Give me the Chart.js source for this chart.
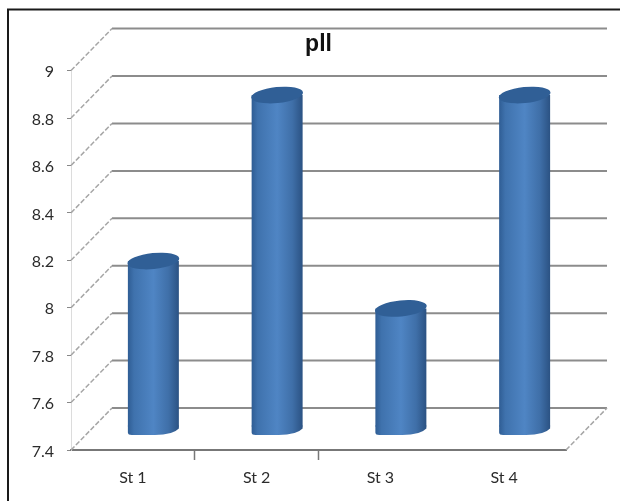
<!DOCTYPE html>
<html>
<head>
<meta charset="utf-8">
<title>pll</title>
<script src="https://cdn.jsdelivr.net/npm/chart.js@4"></script>
<style>
  html, body { margin: 0; padding: 0; background: #fff; }
  canvas { display: block; }
</style>
</head>
<body>
<canvas id="myChart" width="620" height="501"></canvas>
<script>
var categories = ['St 1', 'St 2', 'St 3', 'St 4'];
var values = [8.1, 8.8, 7.9, 8.8];
var yMin = 7.4;
var yMax = 9;
var yStep = 0.2;

// depth of the fake 3D box, and where the cylinders stand inside it
var wallDx = 41, wallDy = -42;
var barDx = 20.5, barDy = -23;
var barRatio = 0.412;

function bodyGradient(context) {
    var chart = context.chart;
    var x = chart.scales.x;
    if (!x || !chart.chartArea) return '#4a7ebb';
    var cx = x.getPixelForValue(context.dataIndex);
    var half = x.width / categories.length * barRatio / 2;
    var g = chart.ctx.createLinearGradient(cx - half, 0, cx + half, 0);
    g.addColorStop(0, '#2f5d94');
    g.addColorStop(0.12, '#3f72ad');
    g.addColorStop(0.5, '#4f85c4');
    g.addColorStop(0.8, '#3f6fa8');
    g.addColorStop(1, '#2b5283');
    return g;
}

// black frame, back wall gridlines and the slanted side lines
var boxPlugin = {
    id: 'box',
    beforeDatasetsDraw: function (chart) {
        var ctx = chart.ctx, area = chart.chartArea, y = chart.scales.y;
        ctx.save();
        ctx.strokeStyle = '#1a1a1a';
        ctx.lineWidth = 2;
        ctx.beginPath();
        ctx.moveTo(8, 501);
        ctx.lineTo(8, 9.5);
        ctx.lineTo(620, 9.5);
        ctx.stroke();

        y.ticks.forEach(function (t) {
            var py = y.getPixelForValue(t.value);
            ctx.setLineDash([]);
            ctx.strokeStyle = '#8c8c8c';
            ctx.lineWidth = 2;
            ctx.beginPath();
            ctx.moveTo(area.left + wallDx, py + wallDy);
            ctx.lineTo(area.right + wallDx, py + wallDy);
            ctx.stroke();

            ctx.setLineDash([5, 2]);
            ctx.strokeStyle = '#a6a6a6';
            ctx.lineWidth = 1.5;
            ctx.beginPath();
            ctx.moveTo(area.left, py);
            ctx.lineTo(area.left + wallDx, py + wallDy);
            ctx.stroke();
        });
        // right edge of the floor
        ctx.beginPath();
        ctx.moveTo(area.right, area.bottom);
        ctx.lineTo(area.right + wallDx, area.bottom + wallDy);
        ctx.stroke();
        ctx.restore();

        ctx.save();
        ctx.translate(barDx, barDy);
    },
    afterDatasetsDraw: function (chart) {
        var ctx = chart.ctx;
        chart.getDatasetMeta(0).data.forEach(function (bar) {
            var l = bar.x - bar.width / 2, r = bar.x + bar.width / 2;
            // rounded foot of the cylinder
            ctx.fillStyle = bar.options.backgroundColor;
            ctx.beginPath();
            ctx.moveTo(l, bar.base - 1);
            ctx.lineTo(l, bar.base + 6);
            ctx.quadraticCurveTo(l, bar.base + 8.5, l + 4, bar.base + 8.5);
            ctx.lineTo(l + 27, bar.base + 8.5);
            ctx.quadraticCurveTo(r - 6, bar.base + 8.5, r, bar.base + 2);
            ctx.lineTo(r, bar.base - 1);
            ctx.closePath();
            ctx.fill();
            // darker top face
            ctx.fillStyle = '#305f96';
            ctx.beginPath();
            ctx.ellipse(bar.x, bar.y, bar.width / 2 + 0.5, 8, -0.1, 0, Math.PI * 2);
            ctx.fill();
        });
        ctx.restore();
    }
};

new Chart(document.getElementById('myChart').getContext('2d'), {
    type: 'bar',
    data: {
        labels: categories,
        datasets: [{
            label: 'pll',
            data: values,
            base: yMin,
            backgroundColor: bodyGradient,
            borderWidth: 0,
            barPercentage: barRatio,
            categoryPercentage: 1,
            clip: false
        }]
    },
    options: {
        responsive: false,
        animation: false,
        layout: { padding: { top: 0, right: 54, bottom: 0, left: 0 } },
        plugins: {
            legend: { display: false },
            tooltip: { enabled: false },
            title: {
                display: true,
                text: 'pll',
                fullSize: false,
                color: '#111',
                font: { family: '"Liberation Sans"', size: 23, weight: 'bold', lineHeight: 1.2 },
                padding: { top: 31, bottom: 12 }
            }
        },
        scales: {
            x: {
                afterFit: function (scale) { scale.height = 51; },
                border: { color: '#777', width: 2 },
                grid: {
                    offset: true,
                    drawOnChartArea: false,
                    tickLength: 10,
                    tickWidth: 1.5,
                    tickColor: function (c) {
                        return c.index === 1 || c.index === 2 ? '#777' : 'transparent';
                    }
                },
                ticks: {
                    color: '#2b2b2b',
                    padding: 8,
                    font: { family: 'Lato', size: 16 }
                }
            },
            y: {
                min: yMin,
                max: yMax,
                afterFit: function (scale) { scale.width = 71; },
                border: { color: '#dcdcdc', width: 1 },
                grid: { drawOnChartArea: false, tickLength: 4, tickColor: '#888' },
                ticks: {
                    stepSize: yStep,
                    color: '#2b2b2b',
                    padding: 13,
                    labelOffset: 1.5,
                    font: { family: 'Lato', size: 16 },
                    callback: function (v) { return String(Math.round(v * 10) / 10); }
                }
            }
        }
    },
    plugins: [boxPlugin]
});
</script>
</body>
</html>
